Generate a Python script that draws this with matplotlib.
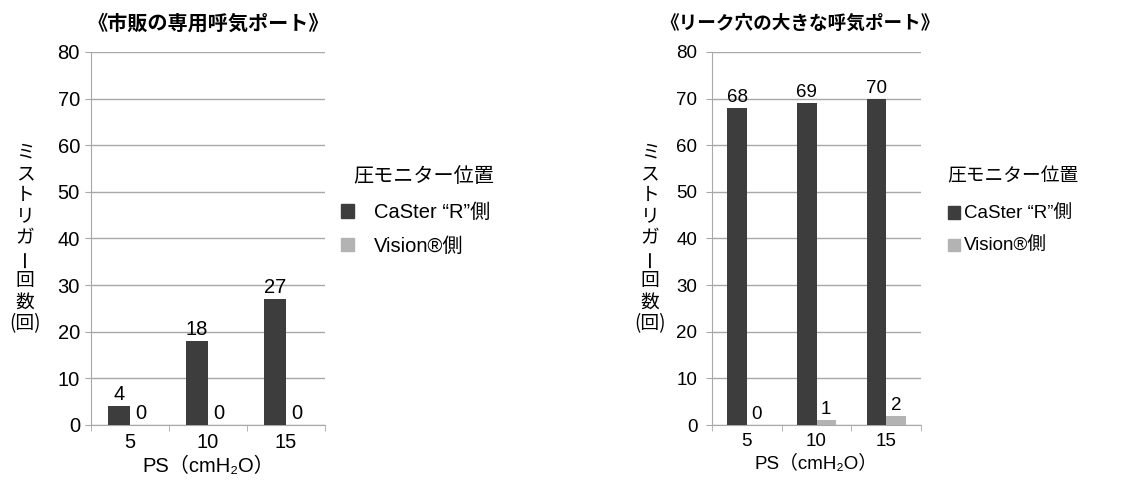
import matplotlib
matplotlib.use("Agg")
import matplotlib.pyplot as plt
from matplotlib.ticker import FixedLocator
from matplotlib.patches import Patch

plt.rcParams['font.family'] = ['Liberation Sans', 'Noto Sans CJK JP', 'DejaVu Sans']

# Data
ps_labels = ["5", "10", "15"]
titles = ["《市販の専用呼気ポート》", "《リーク穴の大きな呼気ポート》"]
caster_left = [4, 18, 27]
vision_left = [0, 0, 0]
caster_right = [68, 69, 70]
vision_right = [0, 1, 2]
series_names = ["CaSter \u201cR\u201d側", "Vision\u00ae側"]
legend_title = "圧モニター位置"
ylabel_chars = ["ミ", "ス", "ト", "リ", "ガ", "ー", "回", "数", "(回)"]
xlabel = "PS（cmH\u2082O）"

dark, light = "#3d3d3d", "#b3b3b3"
gridc = "#a8a8a8"
W, H = 1138, 480

fig = plt.figure(figsize=(W / 100, H / 100), dpi=100)

panels = [
    dict(x0=91, x1=325, caster=caster_left, vision=vision_left, title=titles[0], fs=14.5, tfs=14.5,
         ylab_x=25, leg_x=341, legt_x=353, leg_y=203, lsp=0.72, ypad=3.5, tcx=208, hgap=1.0),
    dict(x0=712, x1=921, caster=caster_right, vision=vision_right, title=titles[1], fs=13.5, tfs=13.4,
         ylab_x=650, leg_x=948, legt_x=947, leg_y=206, lsp=0.82, ypad=6, tcx=800, hgap=0.2),
]
y_top, y_bot = 52, 425
bw = 0.28

for p in panels:
    fs = p["fs"]
    ax = fig.add_axes([p["x0"] / W, (H - y_bot) / H, (p["x1"] - p["x0"]) / W, (y_bot - y_top) / H])
    xs = range(len(ps_labels))
    b1 = ax.bar([x - bw / 2 for x in xs], p["caster"], bw, color=dark, zorder=3)
    b2 = ax.bar([x + bw / 2 for x in xs], p["vision"], bw, color=light, zorder=3)
    for bars, vals in ((b1, p["caster"]), (b2, p["vision"])):
        for r, v in zip(bars, vals):
            ax.annotate(str(v), (r.get_x() + r.get_width() / 2, v), xytext=(0, 1.5),
                        textcoords="offset points", ha="center", va="bottom", fontsize=fs)
    ax.set_xlim(-0.5, 2.5)
    ax.set_ylim(0, 80)
    ax.set_yticks(range(0, 81, 10))
    ax.yaxis.grid(True, color=gridc, linewidth=1, zorder=0)
    ax.set_xticks(list(xs))
    ax.set_xticklabels(ps_labels)
    ax.xaxis.set_minor_locator(FixedLocator([-0.5, 0.5, 1.5, 2.5]))
    ax.tick_params(axis="x", which="major", length=0, pad=6, labelsize=fs)
    ax.tick_params(axis="x", which="minor", length=4, color=gridc)
    ax.tick_params(axis="y", length=4.5, color=gridc, pad=p["ypad"], labelsize=fs)
    for s in ("top", "right"):
        ax.spines[s].set_visible(False)
    for s in ("left", "bottom"):
        ax.spines[s].set_color(gridc)
    ax.set_xlabel(xlabel, fontsize=fs, labelpad=3)

    fig.text(p["tcx"] / W, 1 - 24 / H, p["title"], ha="center", va="center",
             fontsize=p["tfs"], fontweight="bold")
    # vertical y label, one character per row
    for i, ch in enumerate(ylabel_chars):
        yy = 152 + i * 21.4
        fig.text(p["ylab_x"] / W, 1 - yy / H, ch, ha="center", va="center", fontsize=13.5,
                 rotation=90 if ch == "ー" else 0,
                 family=['Noto Sans CJK JP', 'DejaVu Sans'])
    fig.text(p["legt_x"] / W, 1 - 177 / H, legend_title, ha="left", va="center", fontsize=fs)
    handles = [Patch(color=dark), Patch(color=light)]
    ax.legend(handles, series_names, loc="upper left", bbox_to_anchor=(p["leg_x"] / W, 1 - p["leg_y"] / H),
              bbox_transform=fig.transFigure, frameon=False,
              fontsize=fs, handlelength=0.65, handleheight=0.65,
              handletextpad=p["hgap"], labelspacing=p["lsp"], borderpad=0, borderaxespad=0)

fig.savefig("out.png", dpi=100)
